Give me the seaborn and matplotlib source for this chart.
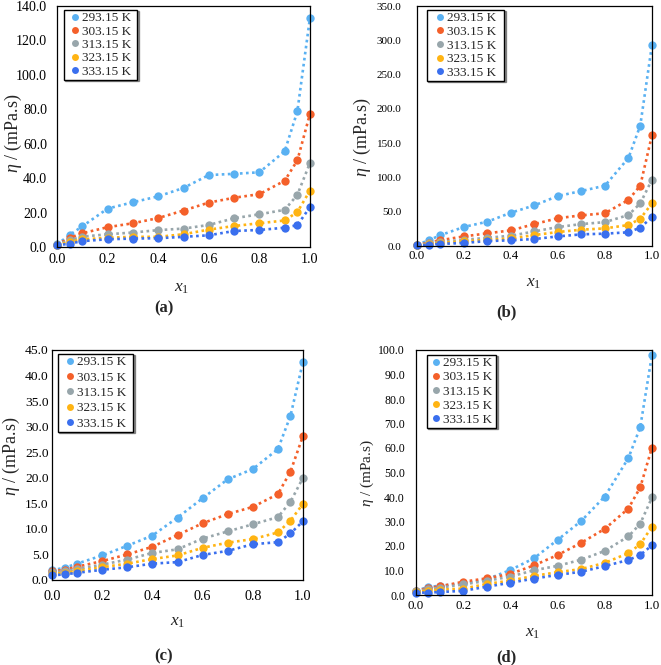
import matplotlib
matplotlib.use("Agg")
import matplotlib.pyplot as plt
import seaborn as sns
import pandas as pd
from matplotlib.lines import Line2D
from matplotlib.ticker import MultipleLocator, FormatStrFormatter

# ---------------- data ----------------
x1 = [0.0, 0.05, 0.1, 0.2, 0.3, 0.4, 0.5, 0.6, 0.7, 0.8, 0.9, 0.95, 1.0]
temps = ["293.15 K", "303.15 K", "313.15 K", "323.15 K", "333.15 K"]
colors = ["#5AB1F2", "#F4602A", "#98A6AB", "#FFB413", "#3A6FEE"]

# panel (a)
a_293 = [1.5, 7.0, 12.0, 22.3, 26.0, 29.4, 34.3, 41.8, 42.5, 43.4, 55.6, 78.8, 133.3]
a_303 = [1.4, 5.2, 8.0, 11.5, 13.8, 16.8, 21.2, 25.8, 28.6, 30.7, 38.5, 50.3, 77.4]
a_313 = [1.3, 4.0, 6.0, 7.4, 8.4, 9.8, 10.7, 12.8, 16.7, 19.0, 21.6, 30.3, 48.9]
a_323 = [1.1, 3.0, 4.4, 5.4, 5.9, 5.9, 7.4, 10.1, 12.2, 13.8, 15.4, 20.3, 32.8]
a_333 = [0.9, 2.0, 3.4, 4.5, 4.9, 5.1, 5.9, 6.8, 9.3, 9.9, 11.2, 12.7, 23.2]

# panel (b)
b_293 = [1.8, 8.3, 15.8, 27.8, 35.5, 48.6, 59.3, 73.0, 80.2, 88.0, 128.5, 175.6, 293.5]
b_303 = [1.5, 5.0, 8.5, 14.0, 18.5, 22.8, 32.0, 40.6, 44.7, 47.8, 67.3, 88.0, 161.9]
b_313 = [1.3, 4.0, 6.0, 9.0, 12.0, 15.0, 21.3, 27.7, 32.0, 34.8, 45.2, 62.2, 96.8]
b_323 = [1.1, 3.0, 4.5, 7.0, 9.0, 11.0, 16.0, 20.4, 23.8, 25.7, 30.6, 39.8, 62.2]
b_333 = [0.9, 2.0, 3.0, 4.5, 7.2, 8.3, 10.2, 14.0, 17.0, 18.0, 20.0, 26.8, 41.9]

# panel (c)
c_293 = [1.9, 2.4, 3.2, 4.8, 6.7, 8.7, 12.2, 16.0, 19.7, 21.7, 25.6, 32.1, 42.7]
c_303 = [1.7, 2.0, 2.6, 3.7, 5.0, 6.5, 8.8, 11.1, 12.9, 14.3, 16.8, 21.2, 28.2]
c_313 = [1.5, 1.7, 2.2, 3.0, 4.0, 5.3, 6.0, 8.1, 9.5, 10.9, 12.3, 15.3, 20.0]
c_323 = [1.2, 1.4, 1.8, 2.5, 3.2, 4.1, 4.8, 6.3, 7.3, 8.0, 9.3, 11.6, 14.9]
c_333 = [0.9, 1.1, 1.4, 2.0, 2.5, 3.2, 3.5, 4.9, 5.7, 7.0, 7.4, 9.1, 11.5]

# panel (d)
d_293 = [1.8, 3.2, 3.8, 4.7, 6.4, 10.2, 15.0, 22.5, 30.2, 40.2, 55.9, 68.4, 98.1]
d_303 = [1.7, 2.8, 3.5, 5.4, 6.8, 8.6, 12.1, 16.3, 21.3, 27.0, 35.3, 43.9, 60.2]
d_313 = [1.5, 2.4, 3.0, 4.3, 5.8, 7.5, 10.1, 11.9, 14.4, 18.0, 23.9, 29.1, 39.8]
d_323 = [1.3, 1.8, 2.2, 2.6, 4.5, 5.9, 7.8, 9.3, 10.6, 13.1, 17.1, 20.7, 27.9]
d_333 = [0.9, 1.0, 1.2, 1.7, 3.4, 5.0, 6.7, 8.2, 9.5, 11.8, 14.3, 16.3, 20.3]

panel_names = ["(a)", "(b)", "(c)", "(d)"]
panel_series = [
    [a_293, a_303, a_313, a_323, a_333],
    [b_293, b_303, b_313, b_323, b_333],
    [c_293, c_303, c_313, c_323, c_333],
    [d_293, d_303, d_313, d_323, d_333],
]
y_max = [140, 350, 45, 100]
y_step = [20, 50, 5, 10]

# ---------------- style ----------------
sns.set_theme(style="white")
plt.rcParams["font.family"] = ["Liberation Serif", "DejaVu Serif"]
plt.rcParams["mathtext.fontset"] = "custom"
plt.rcParams["mathtext.rm"] = "Liberation Serif"
plt.rcParams["mathtext.it"] = "Liberation Serif:italic"
plt.rcParams["mathtext.bf"] = "Liberation Serif:bold"

W, H = 661, 665
fig = plt.figure(figsize=(W / 100, H / 100), dpi=100)
fig.patch.set_facecolor("white")

# layout (pixels)
boxes = [(57, 6, 310, 247), (417, 6, 652, 246), (52, 350, 303, 580), (416, 350, 652, 595)]
label_centers = [(164, 308), (506, 312), (164, 656), (506, 657)]
ylabel_pos = [(13, 133), (362, 137), (11, 456), (367, 473)]
xlabel_pos = [(182, 288), (534, 283), (178, 622), (533, 633)]
ylabel_size = [13, 13, 13, 11]
ytick_size = [10, 8, 9.7, 8.5]
xtick_size = [10.2, 9.3, 10.2, 9.3]
ytick_pad = [7.2, 11, 2.5, 8]
xtick_pad = [4.5, 3, 7, 3.5]
# legend frame targets: left, top, width, height
leg_box = [(64, 10, 73, 69), (427, 10, 77, 70), (58, 354, 75, 77), (427, 355, 69, 72)]

LEG_FS = 9.5
fs_px = LEG_FS * 100 / 72

for i in range(4):
    l, t, r, b = boxes[i]
    axw, axh = r - l, b - t
    ax = fig.add_axes([l / W, 1 - b / H, axw / W, axh / H])
    rows = []
    for temp, vals in zip(temps, panel_series[i]):
        for xv, yv in zip(x1, vals):
            rows.append({"x1": xv, "eta": yv, "T": temp})
    df = pd.DataFrame(rows)
    sns.lineplot(data=df, x="x1", y="eta", hue="T", palette=colors,
                 hue_order=temps, marker="o", markersize=6.0,
                 markeredgewidth=0, linestyle=(0, (1, 1.3)), linewidth=1.9,
                 legend=False, estimator=None, sort=False, ax=ax, clip_on=False)
    ax.set_xlim(0, 1.0)
    ax.set_ylim(0, y_max[i])
    ax.xaxis.set_major_locator(MultipleLocator(0.2))
    ax.yaxis.set_major_locator(MultipleLocator(y_step[i]))
    ax.xaxis.set_major_formatter(FormatStrFormatter("%.1f"))
    ax.yaxis.set_major_formatter(FormatStrFormatter("%.1f"))
    ax.tick_params(axis="both", direction="in", length=3, width=0.8, colors="black")
    ax.tick_params(axis="x", labelsize=xtick_size[i], pad=xtick_pad[i])
    ax.tick_params(axis="y", labelsize=ytick_size[i], pad=ytick_pad[i])
    for sp in ax.spines.values():
        sp.set_visible(True)
        sp.set_color("black")
        sp.set_linewidth(0.9)
    xx, xy = xlabel_pos[i]
    ax.set_xlabel(r"$x_\mathrm{1}$", fontsize=12.5, va="center")
    ax.xaxis.set_label_coords((xx - l) / axw, 1 - (xy - t) / axh)
    yx, yy = ylabel_pos[i]
    ax.set_ylabel(r"$\eta$ / (mPa.s)", fontsize=ylabel_size[i], va="center")
    ax.yaxis.set_label_coords((yx - l) / axw, 1 - (yy - t) / axh)
    ax.grid(False)

    # legend
    bl, bt, bw, bh = leg_box[i]
    content_w = (0.7 + 0.15 + 3.72 + 0.3) * fs_px
    extra = max((bw - content_w) / 2, 0.5)
    row_h = 0.915 * fs_px
    lspace = max((bh - 0.3 * fs_px - 5 * row_h) / 4 / fs_px, 0.0)
    handles = [Line2D([], [], linestyle="none", marker="o", markersize=5,
                      markerfacecolor=c, markeredgewidth=0) for c in colors]
    leg = ax.legend(handles, temps, loc="upper left",
                    bbox_to_anchor=((bl + extra - l) / axw, 1 - (bt - t) / axh),
                    borderaxespad=0, fontsize=LEG_FS, frameon=True,
                    fancybox=False, framealpha=1, edgecolor="black",
                    handlelength=0.7, handletextpad=0.15, borderpad=0.15,
                    labelspacing=lspace,
                    shadow={"ox": 1.0, "oy": -1.0, "shade": 0.8})
    frame = leg.get_frame()
    frame.set_linewidth(1.0)
    frame.set_boxstyle("square", pad=extra / fs_px)
    frame.set_mutation_aspect(0.01)

    fig.text(label_centers[i][0] / W, 1 - label_centers[i][1] / H, panel_names[i],
             ha="center", va="center", fontsize=12, fontweight="bold")

fig.savefig("out.png", dpi=100, facecolor="white")
